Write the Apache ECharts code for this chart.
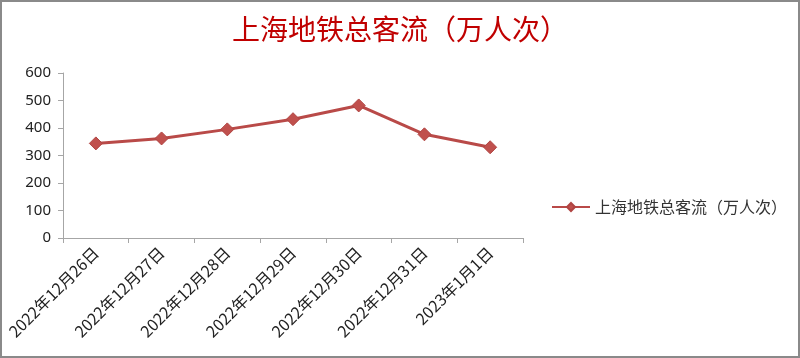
<!DOCTYPE html>
<html><head><meta charset="utf-8">
<script src="https://cdn.jsdelivr.net/npm/echarts@6/dist/echarts.min.js"></script>
<style>
html,body{margin:0;padding:0;background:#fff;}
#frame{position:absolute;left:0;top:0;width:796px;height:354px;border:2px solid #8a8a8a;}
#c{position:absolute;left:-2px;top:-2px;width:800px;height:358px;}
</style></head>
<body><div id="frame"><div id="c"></div></div>
<script>
const categories = ['2022年12月26日','2022年12月27日','2022年12月28日','2022年12月29日','2022年12月30日','2022年12月31日','2023年1月1日'];
const seriesName = '上海地铁总客流（万人次）';
const values = [344, 362, 395, 432, 482, 377, 330];
const yTicks = {min: 0, max: 600, interval: 100};

const chart = echarts.init(document.getElementById('c'));
chart.setOption({
  animation: false,
  title: {
    text: '上海地铁总客流（万人次）', left: 'center', top: 10,
    textStyle: {color: '#c00000', fontSize: 28, fontWeight: 'normal', fontFamily: 'Noto Sans CJK SC'}
  },
  legend: {
    orient: 'vertical', left: 546, top: 194,
    itemWidth: 38, itemHeight: 10, itemGap: 4,
    textStyle: {fontSize: 16, color: '#333', fontFamily: 'Noto Sans CJK SC'},
    data: [seriesName]
  },
  grid: {left: 63, right: 277, top: 73, bottom: 120},
  xAxis: {
    type: 'category', data: categories, boundaryGap: true,
    axisLine: {lineStyle: {color: '#a6a6a6'}},
    axisTick: {show: true, alignWithLabel: false, length: 5, lineStyle: {color: '#a6a6a6'}},
    axisLabel: {rotate: 45, fontSize: 16, color: '#222', margin: 12, fontFamily: 'Noto Sans CJK SC', interval: 0}
  },
  yAxis: {
    type: 'value', min: yTicks.min, max: yTicks.max, interval: yTicks.interval,
    axisLine: {show: true, lineStyle: {color: '#a6a6a6'}},
    axisTick: {show: true, length: 5, lineStyle: {color: '#a6a6a6'}},
    splitLine: {show: false},
    axisLabel: {fontSize: 15, color: '#222', margin: 12, fontFamily: 'Noto Sans'}
  },
  series: [{
    name: seriesName, type: 'line', data: values,
    symbol: 'diamond', symbolSize: 13,
    lineStyle: {color: '#b94a48', width: 3},
    itemStyle: {color: '#c0504d', borderColor: '#b04442', borderWidth: 1}
  }]
});
</script></body></html>
